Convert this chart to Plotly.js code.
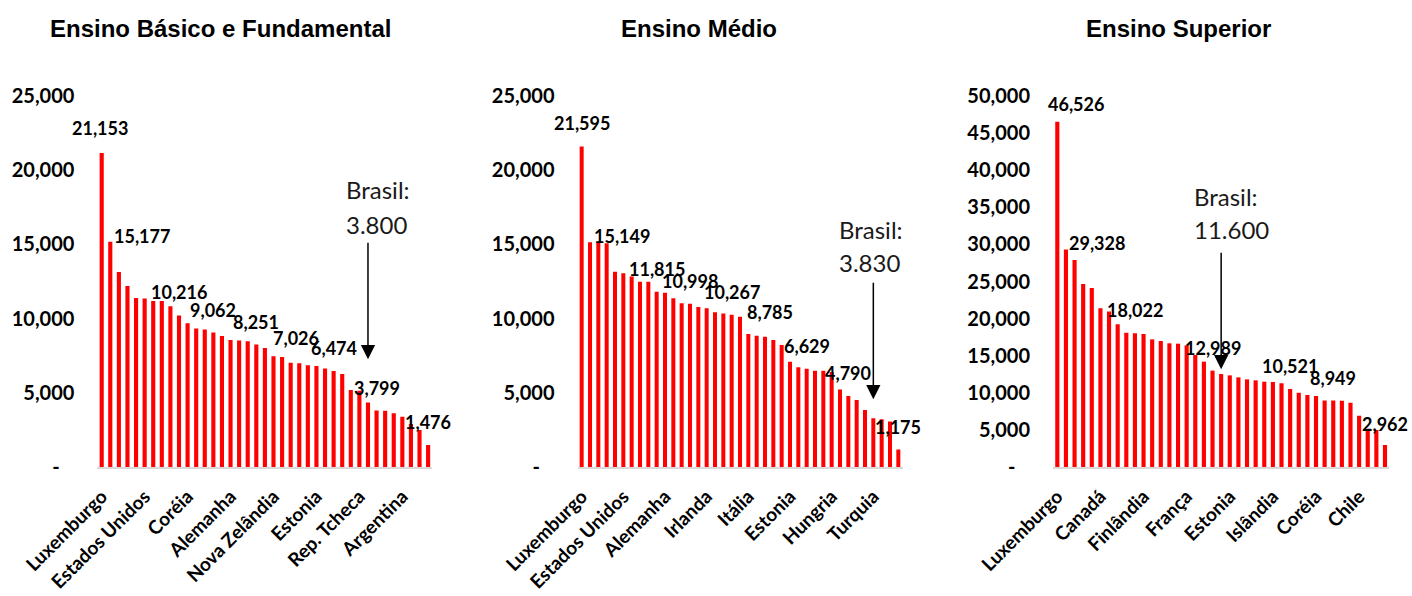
<!DOCTYPE html>
<html lang="pt">
<head>
<meta charset="utf-8">
<script src="https://cdn.plot.ly/plotly-3.0.1.min.js"></script>
<style>
  html, body { margin: 0; padding: 0; background: #ffffff; }
  #grafico { width: 1412px; height: 596px; }
</style>
</head>
<body>
<div id="grafico"></div>
<script>
// Gasto anual por aluno (US$), países ordenados do maior para o menor
const titulos = ['Ensino Básico e Fundamental', 'Ensino Médio', 'Ensino Superior'];

const basicoValores = [
  21153, 15177, 13140, 12200, 11390, 11360, 11190, 11180, 10830, 10216,
  9680, 9340, 9270, 9062, 8830, 8560, 8530, 8470, 8251, 8020,
  7460, 7410, 7026, 6985, 6850, 6800, 6630, 6474, 6270, 5190,
  5140, 4340, 3799, 3790, 3620, 3390, 2900, 2490, 1476
];
const medioValores = [
  21595, 15149, 15120, 15070, 13160, 13050, 12830, 12490, 12480, 11815,
  11750, 11370, 11030, 10998, 10780, 10690, 10420, 10350, 10267, 10130,
  8960, 8850, 8785, 8560, 8220, 7100, 6720, 6629, 6490, 6480,
  6400, 5230, 4790, 4510, 3840, 3280, 3210, 3060, 1175
];
const superiorValores = [
  46526, 29328, 27900, 24660, 24120, 21380, 20950, 19230, 18100, 18022,
  17920, 17200, 16980, 16670, 16620, 16400, 15090, 14200, 12989, 12530,
  12350, 12080, 11810, 11680, 11500, 11450, 11280, 10521, 10020, 9700,
  9570, 8950, 8949, 8940, 8670, 6920, 5080, 4990, 2962
];

// Países nomeados no eixo (um a cada cinco barras, a partir da primeira)
const basicoPaises = ['Luxemburgo', 'Estados Unidos', 'Coréia', 'Alemanha', 'Nova Zelândia', 'Estonia', 'Rep. Tcheca', 'Argentina'];
const medioPaises = ['Luxemburgo', 'Estados Unidos', 'Alemanha', 'Irlanda', 'Itália', 'Estonia', 'Hungria', 'Turquia'];
const superiorPaises = ['Luxemburgo', 'Canadá', 'Finlândia', 'França', 'Estonia', 'Islândia', 'Coréia', 'Chile'];

// Barras com rótulo de valor (posição na ordenação)
const basicoRotulos = [1, 2, 10, 14, 19, 23, 28, 33, 39];
const medioRotulos = [1, 2, 10, 14, 19, 23, 28, 33, 39];
const superiorRotulos = [1, 2, 10, 19, 28, 33, 39];

// Valor do Brasil em cada nível e barra para onde a seta aponta
const brasilTextos = ['3.800', '3.830', '11.600'];
const brasilPosicoes = [32, 36, 20];

const yMaximos = [25000, 25000, 50000];
const yPasso = 5000;

const fmt = v => v.toLocaleString('en-US');

const VERMELHO = '#ff0000';
const fonteRotulo = { family: 'Lato, "Open Sans", sans-serif', size: 18, color: '#000000', weight: 700 };
const fonteEixoY = { family: 'Lato, "Open Sans", sans-serif', size: 20, color: '#000000', weight: 700 };
const fonteEixoX = { family: 'Lato, "Open Sans", sans-serif', size: 19, color: '#000000', weight: 700 };
const fonteBrasil = { family: 'Lato, "Open Sans", sans-serif', size: 24, color: '#1a1a1a' };
const fonteTitulo = { family: '"Liberation Sans", Arial, sans-serif', size: 24, color: '#000000', weight: 700 };

const W = 1412, H = 596;
const px = v => v / W;
const py = v => 1 - v / H;

const paineis = [
  { valores: basicoValores, paises: basicoPaises, rotulos: basicoRotulos, dominio: [97.4, 432.4], tituloX: 221, brasil: [344, 190, 224], seta: 0.2903,
    ajustes: { 1: { dx: -2, dy: 25 }, 2: { left: true, dx: 2, dy: 6 }, 23: { dx: 5, dy: 25 } } },
  { valores: medioValores, paises: medioPaises, rotulos: medioRotulos, dominio: [577.5, 902.5], tituloX: 699, brasil: [837, 229, 262], seta: 0.1825,
    ajustes: { 1: { dx: 0, dy: 24 }, 2: { left: true, dx: 2, dy: 6 }, 23: { dx: 5, dy: 25 } } },
  { valores: superiorValores, paises: superiorPaises, rotulos: superiorRotulos, dominio: [1053, 1389.3], tituloX: 1178, brasil: [1192, 196, 229], seta: 0.2633,
    ajustes: { 1: { dx: 19, dy: 18 }, 2: { left: true, dx: 1, dy: 6 }, 39: { dy: 21 } } }
];

const dados = [];
const anotacoes = [];
const layout = {
  width: W, height: H,
  margin: { l: 0, r: 0, t: 0, b: 0 },
  paper_bgcolor: '#ffffff',
  plot_bgcolor: '#ffffff',
  showlegend: false,
  bargap: 0.52
};

const yDominio = [129 / H, 500 / H];

paineis.forEach((p, k) => {
  const n = k + 1;
  const sufixo = n === 1 ? '' : String(n);
  const xs = p.valores.map((_, i) => i + 1);

  dados.push({
    type: 'bar',
    x: xs,
    y: p.valores,
    xaxis: 'x' + sufixo,
    yaxis: 'y' + sufixo,
    marker: { color: VERMELHO, line: { width: 0 } },
    hovertemplate: '%{y:,}<extra></extra>'
  });

  const yVals = [];
  for (let v = 0; v <= yMaximos[k]; v += yPasso) yVals.push(v);
  const yTextos = yVals.map(v => v === 0 ? '-\u00a0\u00a0\u00a0' : fmt(v));

  layout['xaxis' + sufixo] = {
    domain: [px(p.dominio[0]), px(p.dominio[1])],
    anchor: 'y' + sufixo,
    range: [0.5, p.valores.length + 0.5],
    tickmode: 'array',
    tickvals: p.paises.map((_, i) => 1 + 5 * i),
    ticktext: p.paises,
    tickangle: -45,
    tickfont: fonteEixoX,
    ticks: '',
    ticklabelstandoff: 9,
    showgrid: false,
    zeroline: false,
    showline: true,
    linecolor: '#d9d9d9',
    linewidth: 2,
    fixedrange: true
  };
  layout['yaxis' + sufixo] = {
    domain: yDominio,
    anchor: 'x' + sufixo,
    range: [0, yMaximos[k]],
    tickmode: 'array',
    tickvals: yVals,
    ticktext: yTextos,
    tickfont: fonteEixoY,
    ticks: '',
    ticklabelstandoff: 22,
    showgrid: false,
    zeroline: false,
    showline: false,
    fixedrange: true
  };

  // Rótulos de valor sobre as barras
  p.rotulos.forEach(idx => {
    const a = p.ajustes[idx] || {};
    const v = p.valores[idx - 1];
    anotacoes.push({
      xref: 'x' + sufixo, yref: 'y' + sufixo,
      x: idx, y: v,
      text: fmt(v),
      showarrow: false,
      xanchor: a.left ? 'left' : 'center',
      yanchor: 'middle',
      xshift: a.dx || 0,
      yshift: a.dy !== undefined ? a.dy : 23,
      font: fonteRotulo
    });
  });

  // Título do painel
  anotacoes.push({
    xref: 'paper', yref: 'paper',
    x: px(p.tituloX), y: py(28),
    text: titulos[k],
    showarrow: false,
    xanchor: 'center', yanchor: 'middle',
    font: fonteTitulo
  });

  // Destaque do Brasil
  anotacoes.push({
    xref: 'paper', yref: 'paper',
    x: px(p.brasil[0]), y: py(p.brasil[1]),
    text: 'Brasil:',
    showarrow: false, xanchor: 'left', yanchor: 'middle',
    font: fonteBrasil
  });
  anotacoes.push({
    xref: 'paper', yref: 'paper',
    x: px(p.brasil[0]), y: py(p.brasil[2]),
    text: brasilTextos[k],
    showarrow: false, xanchor: 'left', yanchor: 'middle',
    font: fonteBrasil
  });
  anotacoes.push({
    xref: 'x' + sufixo, yref: 'y' + sufixo + ' domain',
    x: brasilPosicoes[k], y: p.seta,
    axref: 'pixel', ayref: 'pixel',
    ax: 0, ay: -118,
    text: '',
    showarrow: true,
    arrowhead: 2,
    arrowsize: 1.9,
    arrowwidth: 1.5,
    arrowcolor: '#000000',
    standoff: 0
  });
});

layout.annotations = anotacoes;

Plotly.newPlot('grafico', dados, layout, { displayModeBar: false, staticPlot: true });
</script>
</body>
</html>
